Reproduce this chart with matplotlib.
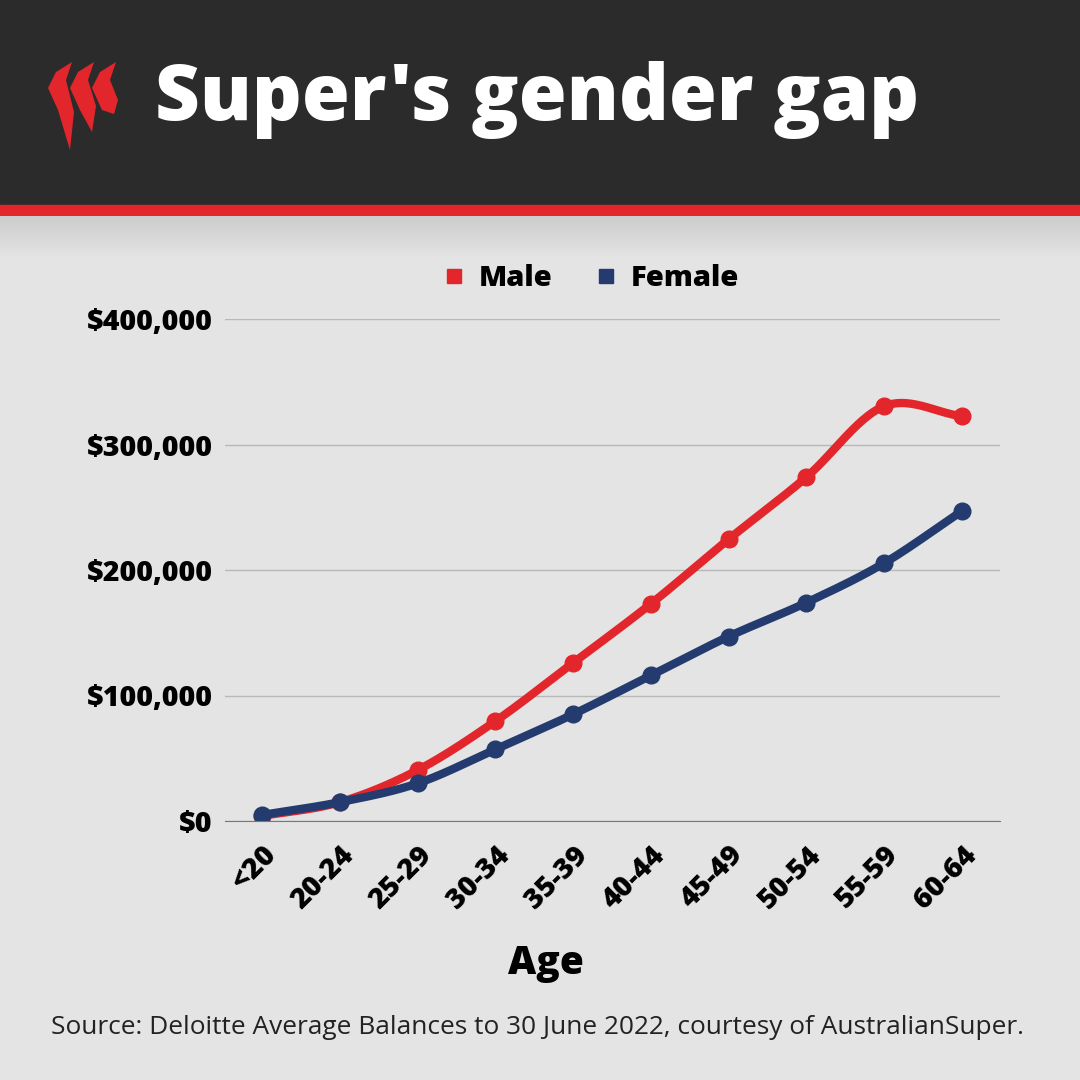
import matplotlib.pyplot as plt
import numpy as np
from matplotlib.patches import Rectangle, Polygon
from matplotlib.lines import Line2D

ages = ["<20", "20-24", "25-29", "30-34", "35-39", "40-44", "45-49", "50-54", "55-59", "60-64"]
male = [4000, 15000, 40500, 79500, 126000, 173000, 224500, 274000, 330500, 322500]
female = [4800, 15000, 30000, 57000, 85000, 116000, 147000, 174000, 205500, 247000]
yticks = [0, 100000, 200000, 300000, 400000]
ylabels = ["$0", "$100,000", "$200,000", "$300,000", "$400,000"]

RED = "#e3262b"
NAVY = "#233b6e"
BG = "#e4e4e4"
plt.rcParams['font.family'] = ['Open Sans', 'DejaVu Sans']


def smooth(x, y, n=30):
    # Catmull-Rom through the points
    x = np.asarray(x, float); y = np.asarray(y, float)
    px = np.concatenate([[2 * x[0] - x[1]], x, [2 * x[-1] - x[-2]]])
    py = np.concatenate([[2 * y[0] - y[1]], y, [2 * y[-1] - y[-2]]])
    xs, ys = [], []
    t = np.linspace(0, 1, n)
    for i in range(1, len(px) - 2):
        for p, out in ((px, xs), (py, ys)):
            p0, p1, p2, p3 = p[i - 1:i + 3]
            out.extend(0.5 * (2 * p1 + (-p0 + p2) * t + (2 * p0 - 5 * p1 + 4 * p2 - p3) * t ** 2
                              + (-p0 + 3 * p1 - 3 * p2 + p3) * t ** 3))
    return xs, ys


fig = plt.figure(figsize=(10.8, 10.8), dpi=100)
fig.patch.set_facecolor(BG)
bg = fig.add_axes([0, 0, 1, 1])
bg.set_xlim(0, 1080); bg.set_ylim(1080, 0); bg.axis('off')
bg.add_patch(Rectangle((0, 0), 1080, 205, color="#2b2b2b"))
bg.add_patch(Rectangle((0, 205), 1080, 11, color=RED))
for i in range(40):
    bg.add_patch(Rectangle((0, 216 + i), 1080, 1, color=str(0.80 + 0.09 * i / 40), lw=0))
# logo: three thin swooshes
for k, dx in enumerate((0, 22, 44)):
    bg.add_patch(Polygon([(48 + dx, 88), (56 + dx, 72), (72 + dx, 62), (66 + dx, 80),
                          (74 + dx, 112 - 6 * k), (70 + dx, 150 - 18 * k), (58 + dx, 110)],
                         color=RED, lw=0))
bg.text(155, 100, "Super's gender gap", color="white", fontsize=56, fontweight='heavy', va='center')
bg.text(537, 1027, "Source: Deloitte Average Balances to 30 June 2022, courtesy of AustralianSuper.",
        fontsize=18.9, ha='center', va='center', color="#222222")

ax = fig.add_axes([225 / 1080, 1 - 821 / 1080, 775 / 1080, 502 / 1080])
ax.set_facecolor(BG)
x = np.arange(len(ages))
for vals, c in ((male, RED), (female, NAVY)):
    sx, sy = smooth(x, vals)
    ax.plot(sx, sy, color=c, lw=6, solid_capstyle='round')
    ax.plot(x, vals, 'o', color=c, ms=12)
ax.set_xlim(-0.476, 9.49)
ax.set_ylim(0, 400000)
ax.set_yticks(yticks, ylabels, fontsize=20.5, fontweight='heavy')
ax.set_xticks(x, ages, rotation=45, ha='right', rotation_mode='anchor', fontsize=20.5, fontweight='heavy')
ax.grid(axis='y', color="#b8b8b8", lw=1)
ax.set_axisbelow(True)
for s in ('top', 'right', 'left'):
    ax.spines[s].set_visible(False)
ax.spines['bottom'].set_color("#777777")
ax.tick_params(length=0, pad=9)
ax.tick_params(axis='x', pad=14)
ax.set_xlabel("Age", fontsize=28, fontweight='heavy', labelpad=24)
ax.xaxis.set_label_coords(0.414, -0.245)
handles = [Line2D([], [], marker='s', ls='', color=RED, ms=10),
           Line2D([], [], marker='s', ls='', color=NAVY, ms=10)]
ax.legend(handles, ["Male", "Female"], loc='lower center', bbox_to_anchor=(0.475, 1.0), ncol=2,
          frameon=False, prop={'weight': 'heavy', 'size': 21}, handlelength=0.5,
          handletextpad=0.6, columnspacing=1.6)
fig.savefig("out.png", dpi=100, facecolor=BG)
